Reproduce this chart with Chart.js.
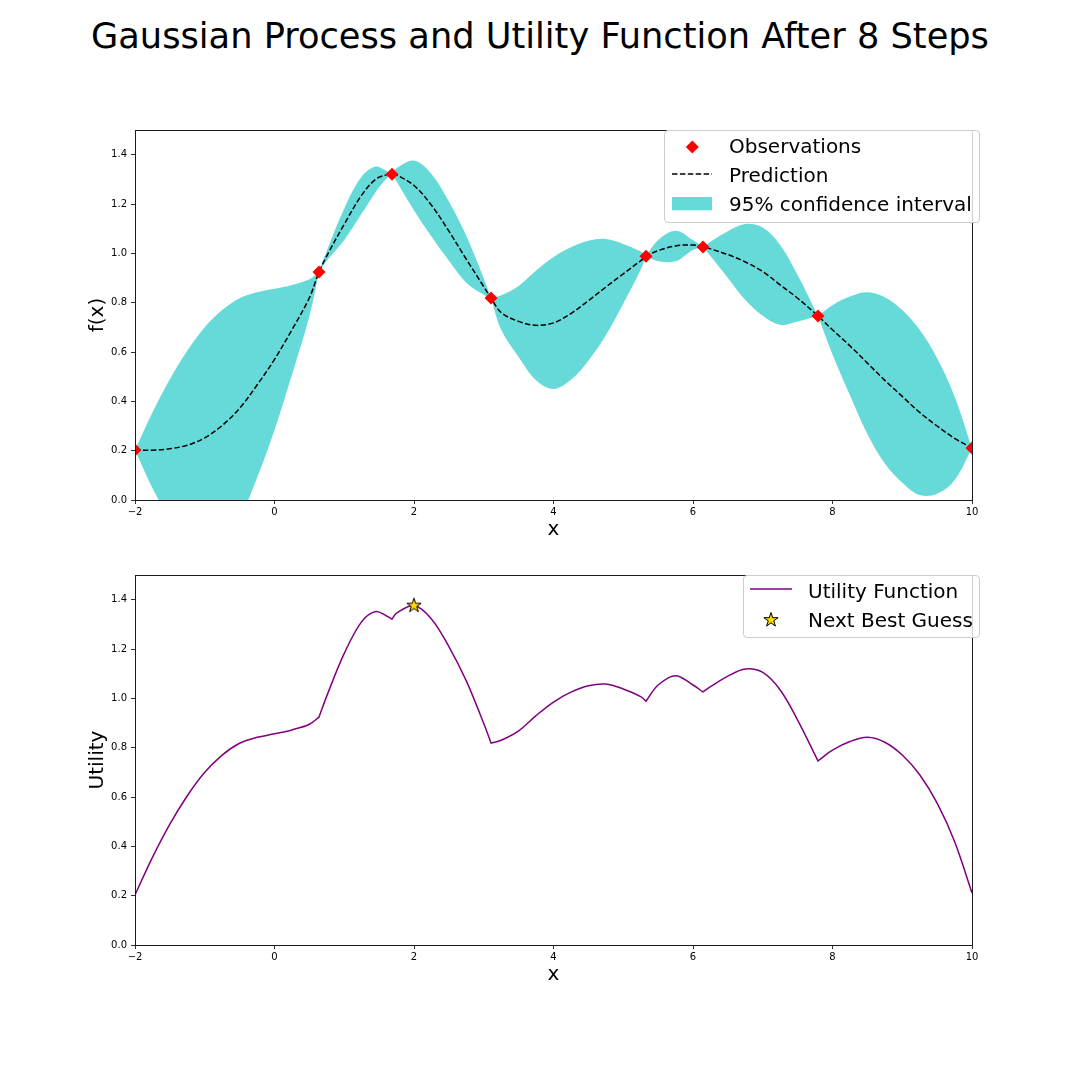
<!DOCTYPE html>
<html><head><meta charset="utf-8">
<script src="https://cdn.jsdelivr.net/npm/chart.js"></script>
<style>
html,body{margin:0;padding:0;background:#fff;}
body{width:1080px;height:1080px;position:relative;overflow:hidden;font-family:'DejaVu Sans',sans-serif;}
#title{position:absolute;left:0;top:18px;width:1080px;text-align:center;font-size:35.2px;line-height:35px;color:#000;white-space:nowrap;}
canvas{position:absolute;left:0;}
#c1{top:0}
#c2{top:545px}
.legend{position:absolute;background:rgba(255,255,255,0.8);border:1px solid #cccccc;border-radius:4px;box-sizing:border-box;}
.lt{position:absolute;font-size:20px;line-height:20px;color:#000;white-space:nowrap;}
.legend svg{position:absolute;left:0;top:0;}
</style></head><body>
<div id="title">Gaussian Process and Utility Function After 8 Steps</div>
<canvas id="c1" width="1080" height="545"></canvas>
<canvas id="c2" width="1080" height="535"></canvas>
<div class="legend" style="left:664px;top:130px;width:316px;height:93px;">
  <svg width="314" height="91">
    <polygon points="20.8,16 27.3,9.5 33.8,16 27.3,22.5" fill="#ff0000"/>
    <line x1="7" y1="43" x2="47" y2="43" stroke="#000" stroke-width="1.5" stroke-dasharray="5.5,2.4"/>
    <rect x="7" y="66" width="40" height="13.3" fill="rgba(0,191,191,0.6)"/>
  </svg>
  <div class="lt" style="left:64px;top:5px;">Observations</div>
  <div class="lt" style="left:64px;top:34px;">Prediction</div>
  <div class="lt" style="left:64px;top:63px;">95% confidence interval</div>
</div>
<div class="legend" style="left:743px;top:575px;width:237px;height:63px;">
  <svg width="235" height="61">
    <line x1="6" y1="13" x2="48" y2="13" stroke="#800080" stroke-width="1.5"/>
    <polygon id="legStar" fill="#FFD700" stroke="#000" stroke-width="1"/>
  </svg>
  <div class="lt" style="left:64px;top:5px;">Utility Function</div>
  <div class="lt" style="left:64px;top:34px;">Next Best Guess</div>
</div>
<script>
// ---- data ----
const xs = [-2, -1.75, -1.5, -1.25, -1, -0.75, -0.5, -0.25, 0, 0.25, 0.5, 0.638, 0.75, 1, 1.25, 1.45, 1.6, 1.685, 1.75, 2, 2.25, 2.5, 2.75, 3, 3.104, 3.25, 3.5, 3.75, 4, 4.25, 4.5, 4.75, 5, 5.25, 5.326, 5.5, 5.75, 6, 6.143, 6.25, 6.5, 6.75, 7, 7.25, 7.5, 7.792, 8, 8.25, 8.5, 8.75, 9, 9.25, 9.5, 9.75, 10];
const meanVals = [0.203, 0.202, 0.208, 0.222, 0.252, 0.302, 0.372, 0.466, 0.57, 0.69, 0.82, 0.924, 0.99, 1.118, 1.236, 1.30, 1.318, 1.321, 1.318, 1.275, 1.195, 1.09, 0.976, 0.865, 0.819, 0.76, 0.724, 0.708, 0.718, 0.756, 0.808, 0.863, 0.917, 0.97, 0.988, 1.011, 1.03, 1.034, 1.026, 1.018, 0.995, 0.965, 0.926, 0.872, 0.818, 0.746, 0.69, 0.625, 0.555, 0.485, 0.42, 0.355, 0.30, 0.25, 0.211];
const upperVals = [0.203, 0.355, 0.49, 0.605, 0.70, 0.77, 0.818, 0.842, 0.856, 0.872, 0.895, 0.924, 1.01, 1.182, 1.311, 1.352, 1.335, 1.321, 1.345, 1.376, 1.322, 1.21, 1.071, 0.898, 0.819, 0.83, 0.868, 0.93, 0.985, 1.025, 1.051, 1.058, 1.038, 1.007, 0.988, 1.054, 1.092, 1.054, 1.026, 1.047, 1.09, 1.119, 1.105, 1.034, 0.912, 0.746, 0.79, 0.825, 0.842, 0.822, 0.77, 0.69, 0.575, 0.42, 0.211];
const lowerVals = [0.203, 0.049, -0.074, -0.161, -0.196, -0.166, -0.074, 0.09, 0.284, 0.508, 0.745, 0.924, 0.97, 1.054, 1.161, 1.248, 1.301, 1.321, 1.291, 1.174, 1.068, 0.97, 0.881, 0.832, 0.819, 0.69, 0.58, 0.485, 0.45, 0.487, 0.565, 0.668, 0.796, 0.933, 0.988, 0.968, 0.968, 1.014, 1.026, 0.989, 0.90, 0.811, 0.747, 0.71, 0.724, 0.746, 0.59, 0.425, 0.268, 0.148, 0.07, 0.02, 0.025, 0.08, 0.211];
const utilityVals = [0.203, 0.355, 0.49, 0.605, 0.70, 0.77, 0.818, 0.842, 0.856, 0.872, 0.895, 0.924, 1.01, 1.182, 1.311, 1.352, 1.335, 1.321, 1.345, 1.376, 1.322, 1.21, 1.071, 0.898, 0.819, 0.83, 0.868, 0.93, 0.985, 1.025, 1.051, 1.058, 1.038, 1.007, 0.988, 1.054, 1.092, 1.054, 1.026, 1.047, 1.09, 1.119, 1.105, 1.034, 0.912, 0.746, 0.79, 0.825, 0.842, 0.822, 0.77, 0.69, 0.575, 0.42, 0.211];
const obsX = [-2, 0.638, 1.685, 3.104, 5.326, 6.143, 7.792, 10];
const obsY = [0.203, 0.924, 1.321, 0.819, 0.988, 1.026, 0.746, 0.211];
const guessX = [2.0];
const guessY = [1.376];
const xTicks = [-2, 0, 2, 4, 6, 8, 10];
const yTicks = [0, 0.2, 0.4, 0.6, 0.8, 1.0, 1.2, 1.4];

// ---- helpers ----
Chart.defaults.font.family = "'DejaVu Sans', sans-serif";
Chart.defaults.color = '#000';
const pts = (xa, ya) => xa.map((x, i) => ({x: x, y: ya[i]}));
// repeat the point at each observation so the smooth curve keeps its corner there
const kinked = (xa, ya) => {
  const out = [];
  xa.forEach((x, i) => {
    out.push({x: x, y: ya[i]});
    if (obsX.indexOf(x) >= 0 && i > 0 && i < xa.length - 1) out.push({x: x, y: ya[i]});
  });
  return out;
};
const fmtX = v => v < 0 ? '\u2212' + Math.abs(v) : String(v);

function starPoints(cx, cy, R, r) {
  const p = [];
  for (let k = 0; k < 10; k++) {
    const a = -Math.PI / 2 + k * Math.PI / 5;
    const rr = (k % 2) ? r : R;
    p.push([cx + rr * Math.cos(a), cy + rr * Math.sin(a)]);
  }
  return p;
}
function starCanvas() {
  const c = document.createElement('canvas');
  c.width = 20; c.height = 20;
  const g = c.getContext('2d');
  const p = starPoints(10, 10, 7.5, 2.865);
  g.beginPath();
  p.forEach((q, i) => i ? g.lineTo(q[0], q[1]) : g.moveTo(q[0], q[1]));
  g.closePath();
  g.fillStyle = '#FFD700'; g.fill();
  g.lineWidth = 1; g.strokeStyle = '#000'; g.stroke();
  return c;
}
document.getElementById('legStar').setAttribute('points',
  starPoints(27, 44, 7.5, 2.865).map(q => q[0].toFixed(2) + ',' + q[1].toFixed(2)).join(' '));

const framePlugin = {
  id: 'frame',
  afterDatasetsDraw(chart) {
    const {ctx, chartArea: a} = chart;
    ctx.save();
    ctx.strokeStyle = '#1a1a1a';
    ctx.lineWidth = 1;
    ctx.strokeRect(a.left + 0.5, a.top + 0.5, a.right - a.left, a.bottom - a.top);
    ctx.restore();
  }
};

function scales(yTitle) {
  const gridOpts = {display: true, drawOnChartArea: false, drawTicks: true, tickLength: 4, color: '#333', lineWidth: 1};
  return {
    x: {
      type: 'linear', min: -2, max: 10,
      afterBuildTicks: s => { s.ticks = xTicks.map(v => ({value: v})); },
      afterFit: s => { s.height = 45; },
      grid: gridOpts, border: {display: false},
      ticks: {font: {size: 10}, color: '#000', padding: 2, maxRotation: 0, autoSkip: false, callback: v => fmtX(v)},
      title: {display: true, text: 'x', font: {size: 20}, color: '#000', padding: {top: 0, bottom: 3}}
    },
    y: {
      type: 'linear', min: 0, max: 1.5,
      afterBuildTicks: s => { s.ticks = yTicks.map(v => ({value: v})); },
      afterFit: s => { s.width = 135; },
      grid: gridOpts, border: {display: false},
      ticks: {font: {size: 10}, color: '#000', padding: 4, callback: v => Number(v).toFixed(1)},
      title: {display: true, text: yTitle, font: {size: 20}, color: '#000', padding: {top: 86, bottom: 0}}
    }
  };
}
const common = {
  responsive: false, animation: false, devicePixelRatio: 1, events: [],
  plugins: {legend: {display: false}, tooltip: {enabled: false}}
};
const TENSION = 0.35;

new Chart(document.getElementById('c1'), {
  type: 'line',
  data: {datasets: [
    {label: 'Observations', data: pts(obsX, obsY), showLine: false, pointStyle: 'rectRot', pointRadius: 6.5,
     backgroundColor: '#ff0000', borderColor: '#ff0000', pointBorderWidth: 0, order: 0, clip: 0},
    {label: 'Prediction', data: pts(xs, meanVals), borderColor: '#000', borderWidth: 1.5, borderDash: [5.5, 2.4],
     pointRadius: 0, tension: TENSION, fill: false, order: 1, clip: 0},
    {label: '95% confidence interval', data: kinked(xs, upperVals), borderWidth: 0, borderColor: 'rgba(0,0,0,0)',
     pointRadius: 0, tension: TENSION, backgroundColor: 'rgba(0,191,191,0.6)', fill: '+1', order: 2, clip: 0},
    {label: 'lower', data: kinked(xs, lowerVals), borderWidth: 0, borderColor: 'rgba(0,0,0,0)',
     pointRadius: 0, tension: TENSION, fill: false, order: 3, clip: 0}
  ]},
  options: Object.assign({}, common, {
    layout: {padding: {top: 130, left: 0, right: 108, bottom: 0}},
    scales: scales('f(x)')
  }),
  plugins: [framePlugin]
});

new Chart(document.getElementById('c2'), {
  type: 'line',
  data: {datasets: [
    {label: 'Utility Function', data: kinked(xs, utilityVals), borderColor: '#800080', borderWidth: 1.5,
     pointRadius: 0, tension: TENSION, fill: false, order: 1, clip: 0},
    {label: 'Next Best Guess', data: pts(guessX, guessY), showLine: false, pointStyle: starCanvas(),
     pointRadius: 8, order: 0, clip: 0}
  ]},
  options: Object.assign({}, common, {
    layout: {padding: {top: 30, left: 0, right: 108, bottom: 90}},
    scales: scales('Utility')
  }),
  plugins: [framePlugin]
});
</script>
</body></html>
